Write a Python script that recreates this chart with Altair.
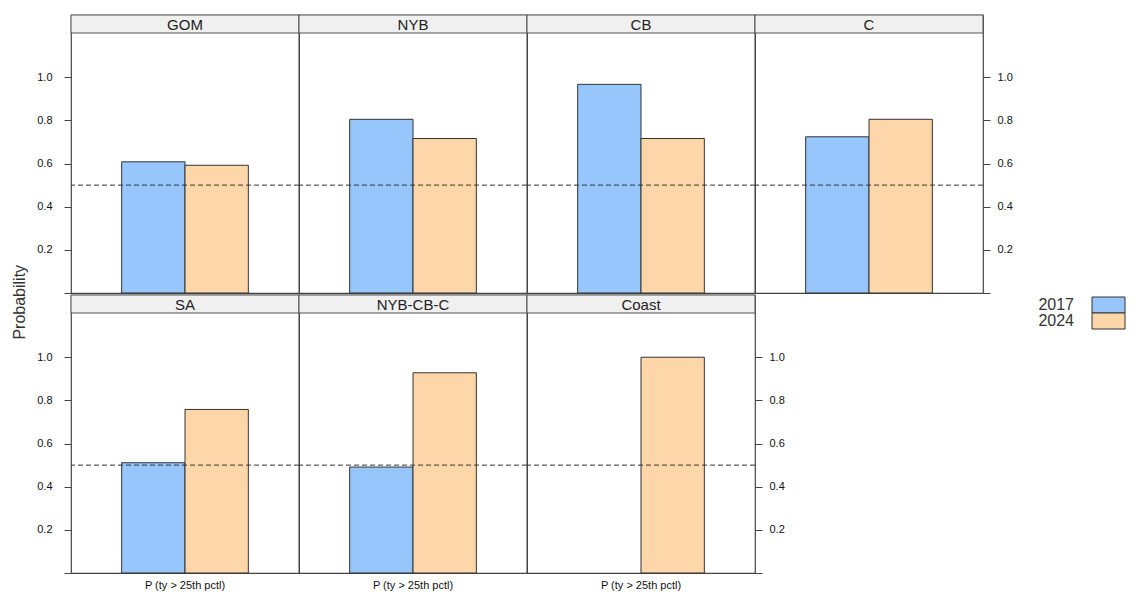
import altair as alt
import pandas as pd

FONT = "Liberation Sans"

regions = ["GOM", "NYB", "CB", "C", "SA", "NYB-CB-C", "Coast"]
years = ["2017", "2024"]
measure = "P (ty > 25th pctl)"
p2017 = [0.608, 0.805, 0.967, 0.724, 0.511, 0.491, None]
p2024 = [0.592, 0.716, 0.716, 0.805, 0.758, 0.928, 1.00]
threshold = [0.5]
colors = ["#97C6FD", "#FDD6AA"]
y_ticks = [0, 0.2, 0.4, 0.6, 0.8, 1.0]
y_max = 1.205

PW = 228      # panel width
STRIP = 18    # strip height
PH = 278      # panel height incl. strip

LABEL_EXPR = "datum.value == 0 ? '' : format(datum.value, '.1f')"


def y_axis(side):
    if side is None:
        return None
    return alt.Axis(orient=side, values=y_ticks, labelExpr=LABEL_EXPR, title=None,
                    domain=False, grid=False, tickSize=7, tickColor="#444",
                    labelPadding=12 if side == "left" else 7,
                    labelFontSize=11, labelColor="#111", labelFont=FONT)


def panel(i, side, bottom):
    r = regions[i]
    rows = [{"region": r, "measure": measure, "year": y, "prob": v}
            for y, v in zip(years, [p2017[i], p2024[i]]) if v is not None]
    df = pd.DataFrame(rows)
    strip_df = pd.DataFrame({"region": [r]})
    thr_df = pd.DataFrame({"prob": threshold})
    yscale = alt.Scale(domain=[0, y_max], range=[PH, STRIP], nice=False, zero=True)
    yax = y_axis(side)
    xax = (alt.Axis(title=None, labelAngle=0, ticks=False, domain=False, labelPadding=6,
                    labelFontSize=11, labelColor="#111", labelFont=FONT)
           if bottom else None)

    strip_bg = alt.Chart(strip_df).mark_rect(fill="#F0F0F0", stroke="#555", strokeWidth=1).encode(
        x=alt.value(0), x2=alt.value(PW), y=alt.value(0), y2=alt.value(STRIP))
    strip_txt = alt.Chart(strip_df).mark_text(fontSize=15, font=FONT, color="#222",
                                              baseline="middle").encode(
        x=alt.value(PW / 2), y=alt.value(STRIP / 2 + 1), text="region:N")
    bars = alt.Chart(df).mark_bar(stroke="#333", strokeWidth=1, opacity=1).encode(
        x=alt.X("measure:N", scale=alt.Scale(paddingInner=0, paddingOuter=0.4), axis=xax),
        xOffset=alt.XOffset("year:N", scale=alt.Scale(domain=years, paddingInner=0, paddingOuter=0)),
        y=alt.Y("prob:Q", scale=yscale, axis=yax),
        color=alt.Color("year:N", scale=alt.Scale(domain=years, range=colors), legend=None),
    )
    rule = alt.Chart(thr_df).mark_rule(strokeDash=[5, 3], color="#333", strokeWidth=1).encode(
        y=alt.Y("prob:Q", scale=yscale, axis=yax))
    return alt.layer(strip_bg, bars, rule, strip_txt).properties(width=PW, height=PH)


leg_df = pd.DataFrame({"year": years})
leg_y = alt.Y("year:N", axis=None, scale=alt.Scale(domain=years, range=[2, 34], paddingInner=0, paddingOuter=0))
leg_box = alt.Chart(leg_df).mark_rect(stroke="#333", strokeWidth=1).encode(
    x=alt.value(337), x2=alt.value(370), y=leg_y,
    color=alt.Color("year:N", scale=alt.Scale(domain=years, range=colors), legend=None))
leg_txt = alt.Chart(leg_df).mark_text(align="right", baseline="middle", fontSize=16, font=FONT,
                                      color="#333").encode(
    x=alt.value(319), y=leg_y, text="year:N")
legend = alt.layer(leg_box, leg_txt).properties(width=PW, height=34,
                                                view=alt.ViewBackground(stroke=None))

panels = [
    panel(0, "left", False), panel(1, None, False), panel(2, None, False), panel(3, "right", False),
    panel(4, "left", True), panel(5, None, True), panel(6, "right", True), legend,
]

chart = alt.concat(*panels, columns=4, spacing={"row": 2, "column": 0}, bounds="flush").resolve_scale(
    x="independent", y="independent", xOffset="independent"
).properties(
    title=alt.TitleParams("Probability", orient="left", anchor="middle", fontSize=16,
                          fontWeight="normal", font=FONT, color="#333", offset=8),
    padding={"left": 4, "top": 5, "right": 0, "bottom": 0},
    background="white",
).configure_view(stroke="#444", strokeWidth=1.2)

chart.save("out.html", embed_options={"renderer": "svg", "actions": False})
